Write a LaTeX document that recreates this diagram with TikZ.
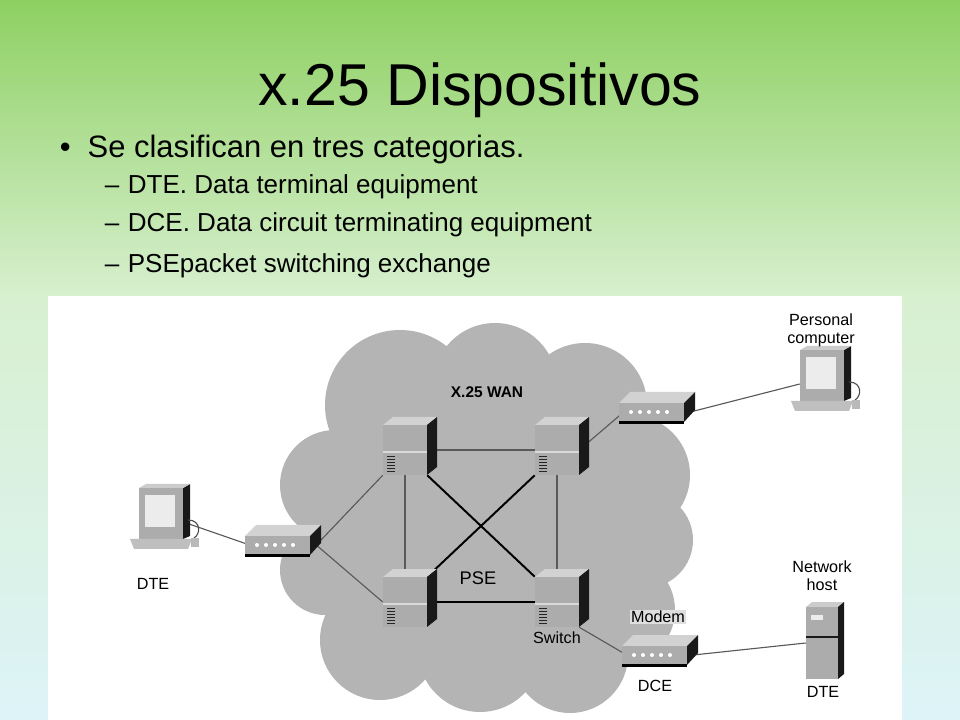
\documentclass[tikz,border=0pt]{standalone}
\usepackage{fontspec}
\setmainfont{Liberation Sans}
\usetikzlibrary{positioning}
\definecolor{topgreen}{HTML}{8ED062}
\definecolor{midgreen}{HTML}{D8F0D0}
\definecolor{botblue}{HTML}{DDF3F8}
\definecolor{cloudgray}{HTML}{B4B4B4}
\tikzset{
  dev/.style n args={2}{inner sep=0pt, minimum width=#1*0.025cm, minimum height=#2*0.025cm},
  wire/.style={gray!70!black, line width=0.8pt},
  xwire/.style={black, line width=1.4pt},
  lbl/.style={font=\fontsize{11.5}{13}\selectfont, align=center},
  switchbox/.pic={
    \fill[gray!35] (-22,-25) -- (-12,-33) -- (32,-33) -- (22,-25) -- cycle;
    \fill[gray!20!black] (22,-25) -- (32,-33) -- (32,17) -- (22,25) -- cycle;
    \fill[gray!65] (-22,-25) rectangle (22,25);
    \draw[gray!30, line width=1pt] (-22,2) -- (22,2);
    \foreach \v in {6,9,...,21} \draw[gray!30!black] (-18,\v) -- (-10,\v);
  },
  modembox/.pic={
    \fill[gray!35] (-38,-9) -- (-27,-20) -- (38,-20) -- (27,-9) -- cycle;
    \fill[gray!20!black] (27,-9) -- (38,-20) -- (38,-2) -- (27,10) -- cycle;
    \fill[black] (-38,9) rectangle (27,12);
    \fill[gray!65] (-38,-9) rectangle (27,9);
    \foreach \d in {-26,-17,...,10} \fill[white] (\d,0) circle (2);
  },
  pcbox/.pic={
    \fill[gray!20!black] (22,-34) -- (29,-38) -- (29,14) -- (22,17) -- cycle;
    \fill[gray!40] (-22,-34) -- (-15,-38) -- (29,-38) -- (22,-34) -- cycle;
    \fill[gray!65] (-22,-34) rectangle (22,17);
    \fill[gray!15] (-16,-27) rectangle (14,5);
    \fill[gray!50] (-31,17) -- (31,17) -- (27,27) -- (-27,27) -- cycle;
    \draw[gray!60!black, line width=0.8pt] (27,-2) .. controls (40,-2) and (40,12) .. (33,16);
    \fill[gray!55] (30,16) rectangle (38,25);
  },
  hostbox/.pic={
    \fill[gray!40] (-16,-36) -- (-10,-41) -- (22,-41) -- (16,-36) -- cycle;
    \fill[gray!20!black] (16,-36) -- (22,-41) -- (22,31) -- (16,36) -- cycle;
    \fill[gray!65] (-16,-36) rectangle (16,36);
    \draw[gray!20!black, line width=0.8pt] (-16,-6) -- (16,-6);
    \fill[gray!15] (-11,-28) rectangle (1,-23);
  }
}
\begin{document}
\begin{tikzpicture}[x=0.025cm, y=-0.025cm]
  % background
  \shade[top color=topgreen, bottom color=midgreen] (0,0) rectangle (960,300);
  \shade[top color=midgreen, bottom color=botblue] (0,300) rectangle (960,720);
  \useasboundingbox (0,0) rectangle (960,720);

  % title and bullets
  \node (title) at (480,90) {\fontsize{42}{46}\selectfont x.25 Dispositivos};
  \node[anchor=west] (b0) at (55,150) {\fontsize{22}{25}\selectfont\textbullet\hspace{12pt}Se clasifican en tres categorias.};
  \node[anchor=west] (b1) at (100,187) {\fontsize{18.5}{21}\selectfont --\hspace{6pt}DTE. Data terminal equipment};
  \node[anchor=west] (b2) at (100,225) {\fontsize{18.5}{21}\selectfont --\hspace{6pt}DCE. Data circuit terminating equipment};
  \node[anchor=west] (b3) at (100,266) {\fontsize{18.5}{21}\selectfont --\hspace{6pt}PSEpacket switching exchange};

  % diagram panel
  \fill[white] (48,296) rectangle (902,720);

  % cloud
  \begin{scope}
    \clip (48,296) rectangle (902,720);
    \fill[cloudgray]
      (400,405) circle (75) (495,385) circle (62) (585,405) circle (62)
      (630,475) circle (60) (645,540) circle (48) (620,610) circle (55)
      (335,485) circle (55) (325,570) circle (45) (380,640) circle (60)
      (480,650) circle (62) (570,655) circle (58) (480,510) circle (140);
  \end{scope}

  % device anchors
  \node[dev={44}{50}] (tl) at (405,450) {};
  \node[dev={44}{50}] (tr) at (557,450) {};
  \node[dev={44}{50}] (bl) at (405,602) {};
  \node[dev={44}{50}] (br) at (557,602) {};
  \node[dev={66}{18}] (mleft) at (283,545) {};
  \node[dev={66}{18}] (mtop) at (657,412) {};
  \node[dev={66}{18}] (mbot) at (660,655) {};
  \node[dev={44}{50}] (pcl) at (161,522) {};
  \node[dev={44}{50}] (pcr) at (822,384) {};
  \node[dev={32}{72}] (host) at (822,643) {};

  % connectors
  \draw[wire] (tl.east) -- (tr.west);
  \draw[xwire] (bl.east) -- (br.west);
  \draw[wire] (tl.south) -- (bl.north);
  \draw[wire] (tr.south) -- (br.north);
  \draw[xwire] (tl.south east) -- (br.north west);
  \draw[xwire] (tr.south west) -- (bl.north east);
  \draw[wire] (mleft.east) -- (tl.south west);
  \draw[wire] (mleft.east) -- (bl.west);
  \draw[wire] (pcl.east) -- (mleft.west);
  \draw[wire] (tr.east) -- (mtop.west);
  \draw[wire] (mtop.east) -- (pcr.west);
  \draw[wire] (br.south east) -- (mbot.west);
  \draw[wire] (mbot.east) -- (host.west);

  % devices
  \pic at (tl) {switchbox};
  \pic at (tr) {switchbox};
  \pic at (bl) {switchbox};
  \pic at (br) {switchbox};
  \pic at (mleft) {modembox};
  \pic at (mtop) {modembox};
  \pic at (mbot) {modembox};
  \pic at (pcl) {pcbox};
  \pic at (pcr) {pcbox};
  \pic at (host) {hostbox};

  % labels
  \node[lbl, font=\fontsize{11}{13}\bfseries] (wan) at (487,392) {X.25 WAN};
  \node[lbl, font=\fontsize{13}{15}\selectfont] (pse) at (478,578) {PSE};
  \node[lbl] (sw) at (557,638) {Switch};
  \node[lbl, fill=gray!25, inner sep=1pt] (modem) at (658,617) {Modem};
  \node[lbl] (dce) at (655,686) {DCE};
  \node[lbl] (dter) at (823,692) {DTE};
  \node[lbl] (nh) at (822,576) {Network\\host};
  \node[lbl] (pc) at (821,330) {Personal\\computer};
  \node[lbl] (dtel) at (153,584) {DTE};
\end{tikzpicture}
\end{document}
